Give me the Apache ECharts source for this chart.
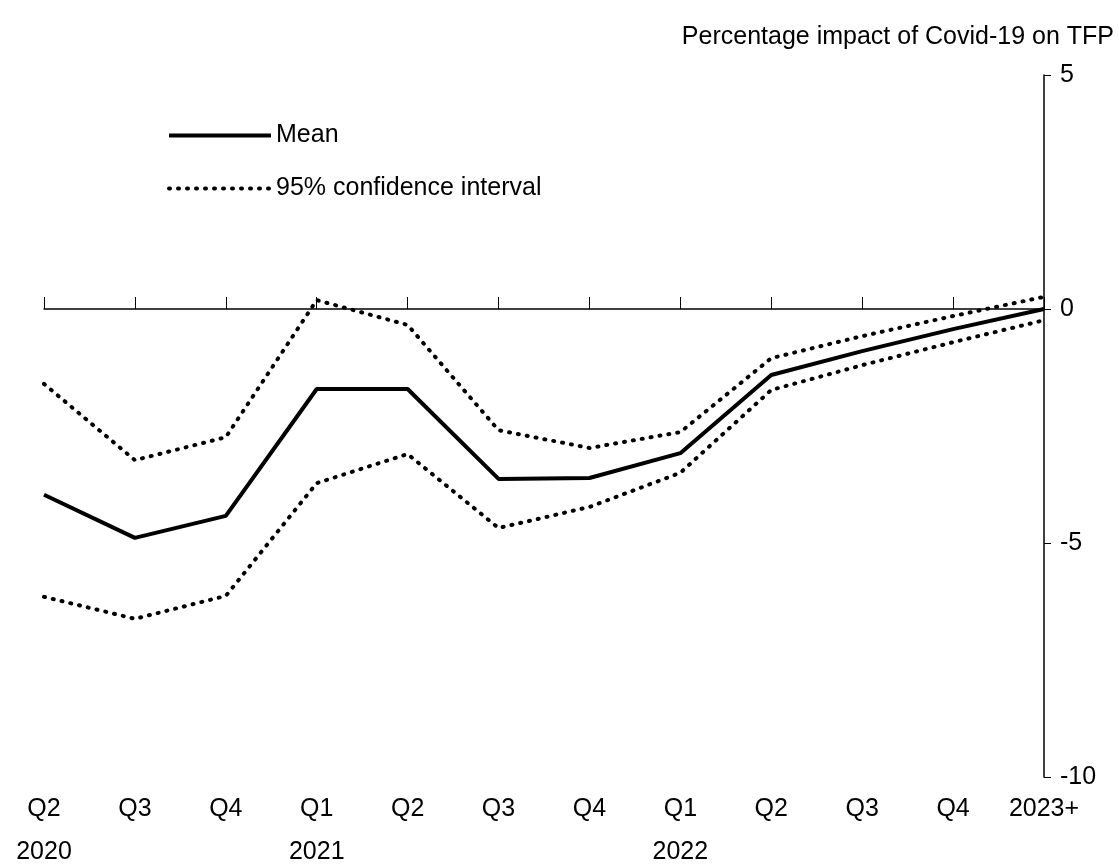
<!DOCTYPE html>
<html><head><meta charset="utf-8">
<script src="https://cdn.jsdelivr.net/npm/echarts@6/dist/echarts.min.js"></script>
<style>html,body{margin:0;padding:0;background:#fff}#c{width:1119px;height:868px}</style>
</head><body><div id="c"></div>
<script>
const categories = ['Q2\n2020','Q3','Q4','Q1\n2021','Q2','Q3','Q4','Q1\n2022','Q2','Q3','Q4','2023+'];
const mean  = [-3.97,-4.89,-4.42,-1.71,-1.71,-3.63,-3.61,-3.08,-1.41,-0.90,-0.43,0];
const upper = [-1.60,-3.23,-2.74,0.19,-0.34,-2.59,-2.97,-2.63,-1.05,-0.58,-0.15,0.26];
const lower = [-6.15,-6.62,-6.13,-3.72,-3.10,-4.68,-4.23,-3.50,-1.73,-1.20,-0.71,-0.24];
const font = 'Liberation Sans, Arial, sans-serif';
const chart = echarts.init(document.getElementById('c'));
chart.setOption({
  animation:false,
  title:{text:'Percentage impact of Covid-19 on TFP',right:0,top:20,textStyle:{fontFamily:font,fontSize:25,fontWeight:'normal',color:'#000'}},
  legend:{data:[
      {name:'Mean',itemStyle:{opacity:0},lineStyle:{width:4,type:'solid',color:'#000'}},
      {name:'95% confidence interval',itemStyle:{opacity:0},lineStyle:{width:4,type:[1,8],cap:'round',color:'#000'}}],
    orient:'vertical',left:162,top:118,itemWidth:102,itemHeight:14,itemGap:28,
    textStyle:{fontFamily:font,fontSize:25,color:'#000'}},
  grid:{left:44,right:75,top:75,bottom:91,containLabel:false,outerBoundsMode:'none'},
  xAxis:[
    {type:'category',data:categories,boundaryGap:false,axisLine:{onZero:true,lineStyle:{color:'#000',width:1.5}},
     axisTick:{show:true,inside:true,length:12,lineStyle:{color:'#000'}},axisLabel:{show:false},splitLine:{show:false}},
    {type:'category',data:categories,boundaryGap:false,position:'bottom',axisLine:{show:false,onZero:false},axisTick:{show:false},
     axisLabel:{fontFamily:font,fontSize:25,color:'#000',margin:11,lineHeight:43,interval:0}}
  ],
  yAxis:{type:'value',min:-10,max:5,interval:5,position:'right',axisLine:{show:true,lineStyle:{color:'#000',width:1.5}},
    axisTick:{show:true,length:7,lineStyle:{color:'#000'}},splitLine:{show:false},
    axisLabel:{fontFamily:font,fontSize:25,color:'#000',margin:16}},
  series:[
    {name:'Mean',type:'line',data:mean,symbol:'none',lineStyle:{color:'#000',width:4},itemStyle:{color:'#000'}},
    {name:'95% confidence interval',type:'line',data:upper,symbol:'none',lineStyle:{color:'#000',width:4,type:[1,8],cap:'round'},itemStyle:{color:'#000'}},
    {name:'95% confidence interval',type:'line',data:lower,symbol:'none',lineStyle:{color:'#000',width:4,type:[1,8],cap:'round'},itemStyle:{color:'#000'}}
  ]
});
</script></body></html>
